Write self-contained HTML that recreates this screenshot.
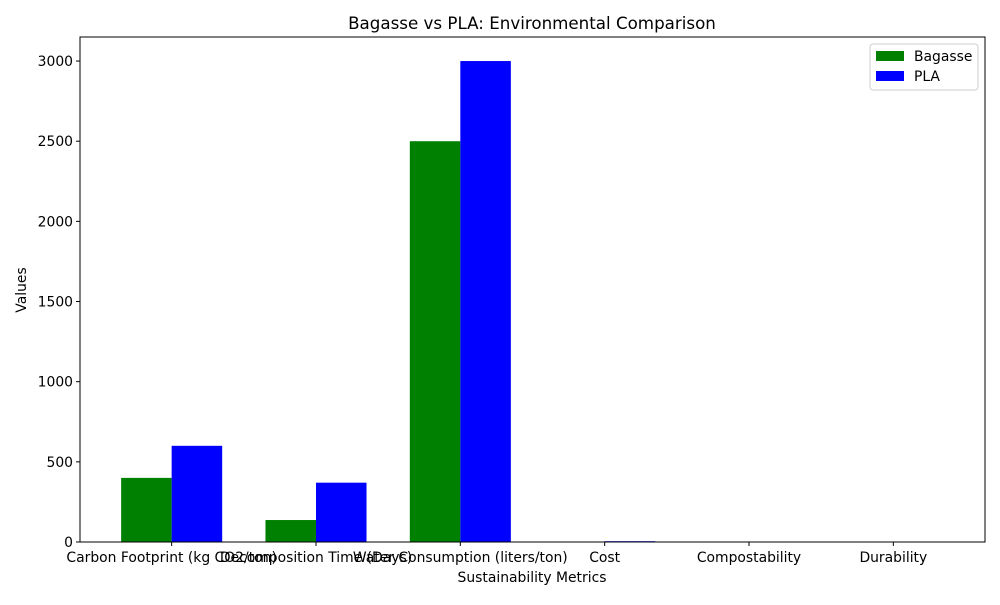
<!DOCTYPE html>
<html><head><meta charset="utf-8"><style>
body{margin:0;background:#fff;}
svg{font-family:"DejaVu Sans","Liberation Sans",sans-serif;}
</style></head><body>
<svg id="chart" width="1000" height="600">
<rect width="1000" height="600" fill="#fff"/>
<text x="532" y="29" text-anchor="middle" font-size="16.7">Bagasse vs PLA: Environmental Comparison</text>
<g id="bars"></g>
<g id="axes"></g>
<rect x="80" y="37" width="905" height="505" fill="none" stroke="#000" stroke-width="1"/>
<text x="532" y="582" text-anchor="middle" font-size="13.9">Sustainability Metrics</text>
<text transform="translate(26,290) rotate(-90)" text-anchor="middle" font-size="13.9">Values</text>
<g>
<rect x="870" y="44" width="108" height="46" fill="#fff" stroke="#ccc" rx="3"/>
<g><rect x="876" y="51" width="28" height="10" fill="green"/><text x="914" y="61" font-size="13.9">Bagasse</text></g>
<g><rect x="876" y="71" width="28" height="10" fill="blue"/><text x="914" y="81" font-size="13.9">PLA</text></g>
</g>
</svg>
<script>
const categories=["Carbon Footprint (kg CO2/ton)","Decomposition Time (Days)","Water Consumption (liters/ton)","Cost","Compostability","Durability"];
const bagasse=[400,137,2500,2,1,1];
const pla=[600,370,3000,5,0.5,1];
const yTicks=[0,500,1000,1500,2000,2500,3000];
const NS="http://www.w3.org/2000/svg";
const L=80,R=985,T=37,B=542;
const xmin=-0.635,xmax=5.635,ymax=3150;
const xs=v=>L+(v-xmin)/(xmax-xmin)*(R-L);
const ys=v=>B-v/ymax*(B-T);
const bars=document.getElementById('bars'),axes=document.getElementById('axes');
function mk(t,a,p){const e=document.createElementNS(NS,t);for(const k in a)e.setAttribute(k,a[k]);p.appendChild(e);return e;}
const w=0.35;
categories.forEach((c,i)=>{
 let r=mk('rect',{x:xs(i-w),y:ys(bagasse[i]),width:xs(w)-xs(0),height:B-ys(bagasse[i]),fill:'green'},bars);
 
 
 r=mk('rect',{x:xs(i),y:ys(pla[i]),width:xs(w)-xs(0),height:B-ys(pla[i]),fill:'blue'},bars);
 
 
 mk('line',{x1:xs(i),x2:xs(i),y1:B,y2:B+4,stroke:'#000'},axes);
 const t=mk('text',{x:xs(i),y:B+20,'text-anchor':'middle','font-size':13.9},axes);
 t.textContent=c;
 
 
});
yTicks.forEach(v=>{
 mk('line',{x1:L-4,x2:L,y1:ys(v),y2:ys(v),stroke:'#000'},axes);
 const t=mk('text',{x:L-7,y:ys(v)+5,'text-anchor':'end','font-size':13.9},axes);
 t.textContent=v;
 
 
});
</script>
</body></html>
